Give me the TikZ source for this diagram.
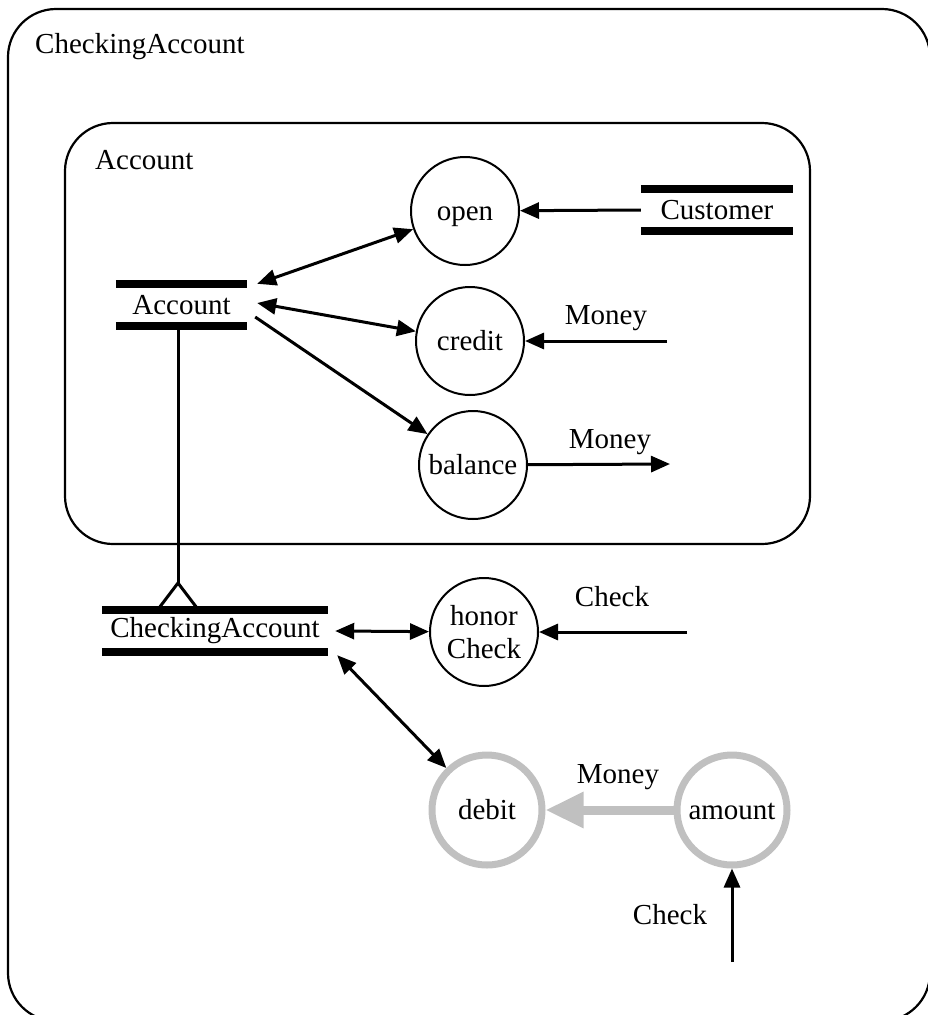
\documentclass[tikz,border=0pt]{standalone}
\usepackage{fontspec}
\setmainfont{Liberation Serif}
\usetikzlibrary{arrows.meta}
\definecolor{procGray}{HTML}{C0C0C0}

\tikzset{
  proc/.style={circle, draw, line width=2pt, minimum size=108pt, inner sep=0pt, align=center},
  procgray/.style={proc, draw=procGray, line width=7pt, minimum size=110pt},
  oneline/.style={text height=24pt, text depth=6pt},
  store/.style={inner sep=0pt, minimum height=42pt},
  storebar/.style={line width=8pt},
  flow/.style={line width=3pt, -{Triangle[length=19pt,width=16pt]}},
  dflow/.style={line width=3pt, {Triangle[length=19pt,width=16pt]}-{Triangle[length=19pt,width=16pt]}},
  grayflow/.style={line width=9pt, draw=procGray, -{Triangle[length=38pt,width=34pt]}},
  box/.style={line width=2.2pt, rounded corners=48pt},
  lbl/.style={inner sep=0pt}
}

\begin{document}
\begin{tikzpicture}[x=1pt,y=-1pt,font=\fontsize{29}{33}\selectfont]
  \useasboundingbox (0,0) rectangle (928,1015);
  \clip (0,0) rectangle (928,1015);
  % Classes.
  \draw [box] (8,9) rectangle (930,1021);
  \node [lbl, anchor=west] (outerlbl) at (35,47) {CheckingAccount};
  \draw [box] (65,123) rectangle (810,544);
  \node [lbl, anchor=west] (innerlbl) at (95,160) {Account};

  % Stores.
  \node [store, minimum width=131pt] (acct) at (181.5,305) {Account};
  \draw [storebar] (acct.north west) -- (acct.north east);
  \draw [storebar] (acct.south west) -- (acct.south east);
  \node [store, minimum width=152pt] (cust) at (717,210) {Customer};
  \draw [storebar] (cust.north west) -- (cust.north east);
  \draw [storebar] (cust.south west) -- (cust.south east);
  \node [store, minimum width=226pt] (ca) at (215,631) {CheckingAccount};
  \draw [storebar] (ca.north west) -- (ca.north east);
  \draw [storebar] (ca.south west) -- (ca.south east);

  % Processes.
  \node [proc, oneline] (open) at (465,211) {open};
  \node [proc, oneline] (credit) at (470,341) {credit};
  \node [proc, oneline] (balance) at (473,465) {balance};
  \node [proc] (honor) at (484,632) {honor\\Check};
  \node [procgray, oneline] (debit) at (487,810) {debit};
  \node [procgray, oneline] (amount) at (732,810) {amount};

  % Free ends.
  \coordinate (creditin) at (667,341);
  \coordinate (balanceout) at (670,464);
  \coordinate (honorin) at (687,632);
  \coordinate (amountin) at (732,962);
  \coordinate (apex) at (178,583);

  % Flows.
  \draw [dflow] ([xshift=10pt]acct.north east) -- (open);
  \draw [dflow] ([xshift=10pt,yshift=2pt]acct.east) -- (credit);
  \draw [flow] ([xshift=8pt,yshift=-12pt]acct.east) -- (balance);
  \draw [flow] (cust.west) -- (open);
  \draw [flow] (creditin) -- (credit);
  \draw [flow] (balance) -- (balanceout);
  \draw [dflow] ([xshift=7pt]ca.east) -- (honor);
  \draw [dflow] ([xshift=9pt,yshift=-3pt]ca.south east) -- (debit);
  \draw [flow] (honorin) -- (honor);
  \draw [grayflow] (amount) -- (debit);
  \draw [flow] (amountin) -- (amount);

  % Inheritance.
  \draw [line width=3pt] (acct.south -| apex) -- (apex);
  \draw [line width=3pt] (apex) ++(-19,25) -- (apex) -- ++(19,25);

  % Flow labels.
  \node [lbl] (creditlbl) at (606,318) {Money};
  \node [lbl] (balancelbl) at (610,442) {Money};
  \node [lbl] (honorlbl) at (612,597) {Check};
  \node [lbl] (debitlbl) at (618,777) {Money};
  \node [lbl] (amountlbl) at (670,915) {Check};
\end{tikzpicture}
\end{document}
